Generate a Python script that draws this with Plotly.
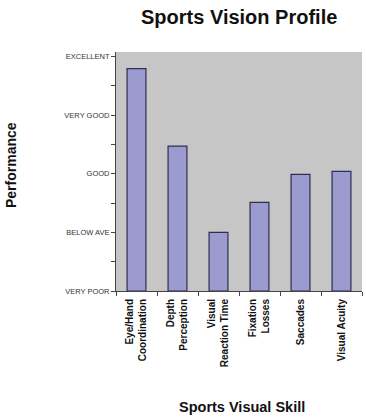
import plotly.graph_objects as go

categories = ["Eye/Hand<br>Coordination", "Depth<br>Perception", "Visual<br>Reaction Time",
              "Fixation<br>Losses", "Saccades", "Visual Acuity"]
values = [7.58, 4.94, 2.0, 3.02, 3.98, 4.08]
tick_values = [0, 2, 4, 6, 8]
tick_labels = ["VERY POOR", "BELOW AVE", "GOOD", "VERY GOOD", "EXCELLENT"]
minor_values = [1, 3, 5, 7]

FONT = "Liberation Sans, Arial, sans-serif"

W, H = 366, 419
L, R, T, B = 116, 4, 52, 128
pw = W - L - R
ph = H - T - B


def px_x(x):
    return (x - L) / pw


def px_y(y):
    return (H - B - y) / ph


fig = go.Figure(go.Bar(
    x=categories, y=values, width=0.46,
    marker=dict(color="#9b9bcf", line=dict(color="#2e2e52", width=1.2)),
))

fig.update_layout(
    width=W, height=H,
    margin=dict(l=L, r=R, t=T, b=B),
    paper_bgcolor="white", plot_bgcolor="#c6c6c6",
    showlegend=False,
    font=dict(family=FONT, color="#222"),
    xaxis=dict(
        tickangle=-90, tickson="boundaries", ticks="outside", ticklen=4,
        tickcolor="#444", showline=True, linecolor="#444", linewidth=1,
        tickfont=dict(family=FONT, size=10, color="#111", weight="bold"),
        ticklabelstandoff=3,
        showgrid=False, fixedrange=True,
    ),
    yaxis=dict(
        range=[0, 8.15], tickvals=tick_values, ticktext=tick_labels,
        ticks="outside", ticklen=4, tickcolor="#444",
        showline=True, linecolor="#444", linewidth=1,
        tickfont=dict(family=FONT, size=7.5, color="#333"),
        showgrid=False, zeroline=False,
        minor=dict(tickvals=minor_values, ticks="outside", ticklen=4, tickcolor="#444", showgrid=False),
    ),
    annotations=[
        dict(text="<b>Sports Vision Profile</b>", x=px_x(238.5), y=px_y(16.5),
             xref="paper", yref="paper", showarrow=False,
             font=dict(family=FONT, size=20, color="#111"),
             xanchor="center", yanchor="middle"),
        dict(text="<b>Performance</b>", x=px_x(11), y=px_y(165),
             xref="paper", yref="paper", showarrow=False, textangle=-90,
             font=dict(family=FONT, size=14, color="#111"),
             xanchor="center", yanchor="middle"),
        dict(text="<b>Sports Visual Skill</b>", x=px_x(241.5), y=px_y(407),
             xref="paper", yref="paper", showarrow=False,
             font=dict(family=FONT, size=14.5, color="#111"),
             xanchor="center", yanchor="middle"),
    ],
)

fig.write_html("out.html")
